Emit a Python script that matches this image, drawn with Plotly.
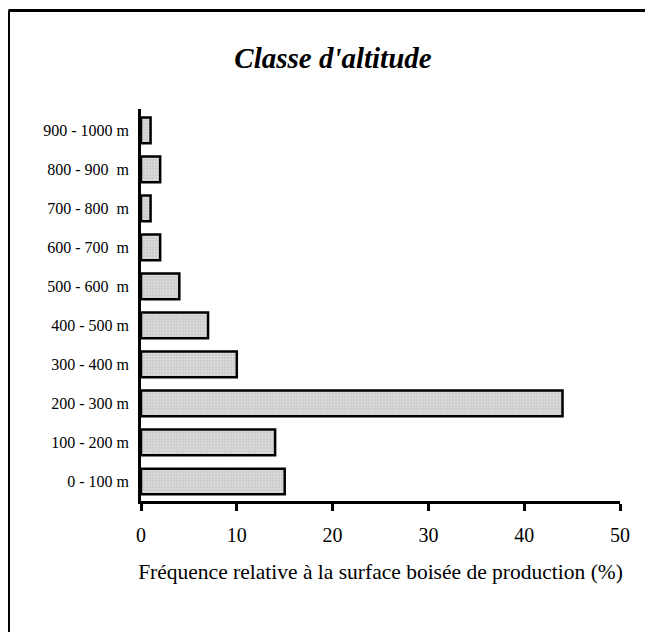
import plotly.graph_objects as go

categories = ["0 - 100 m", "100 - 200 m", "200 - 300 m", "300 - 400 m", "400 - 500 m",
              "500 - 600\u00a0 m", "600 - 700\u00a0 m", "700 - 800\u00a0 m", "800 - 900\u00a0 m", "900 - 1000 m"]
values = [15, 14, 44, 10, 7, 4, 2, 1, 2, 1]
x_ticks = [0, 10, 20, 30, 40, 50]

title_text = "<b><i>Classe d'altitude</i></b>"
x_title = "Fréquence relative à la surface boisée de production (%)"

FONT = "Liberation Serif, Times New Roman, serif"

fig = go.Figure(go.Bar(
    y=categories, x=values, orientation="h",
    marker=dict(
        color="#d4d4d4",
        line=dict(color="black", width=2.5),
        pattern=dict(shape=".", fgcolor="#f4f4f4", bgcolor="#cccccc", size=3, solidity=0.4),
    ),
    width=0.66,
))

# page offset of the plot div inside the browser page
OFF = 8
W, H = 653 - OFF, 632 - OFF
L, T = 141 - OFF, 109 - OFF
R = W - (620 - OFF)
B = H - (501 - OFF)
pw, ph = W - L - R, H - T - B

def px_x(p):
    return (p - OFF - L) / pw

def px_y(p):
    return (H - B - (p - OFF)) / ph

fig.update_layout(
    width=W, height=H,
    margin=dict(l=L, r=R, t=T, b=B, pad=0),
    paper_bgcolor="white", plot_bgcolor="white",
    showlegend=False,
    font=dict(family=FONT, color="black"),
    title=dict(text=title_text, x=(333 - OFF) / W, xanchor="center", y=1 - (58 - OFF) / H, yanchor="middle",
               font=dict(size=29, family=FONT, color="black")),
    xaxis=dict(range=[0, 50], tickvals=x_ticks, ticks="outside", ticklen=7, tickwidth=2.5,
               tickcolor="black", showline=True, linecolor="black", linewidth=2.5,
               showgrid=False, zeroline=False, tickfont=dict(size=20, family=FONT),
               ticklabelstandoff=7,
               title=dict(text=x_title, font=dict(size=21.5, family=FONT), standoff=20)),
    yaxis=dict(range=[-0.5, 9.55], type="category", showline=True, linecolor="black", linewidth=2.5,
               ticks="", showgrid=False, zeroline=False, tickfont=dict(size=16, family=FONT),
               ticklabelstandoff=6),
    bargap=0.34,
)

# outer frame (top and left edges)
fig.add_shape(type="line", xref="paper", yref="paper",
              x0=px_x(8.5), y0=px_y(10.5), x1=px_x(653), y1=px_y(10.5),
              line=dict(color="black", width=3))
fig.add_shape(type="line", xref="paper", yref="paper",
              x0=px_x(8.5), y0=px_y(10.5), x1=px_x(8.5), y1=px_y(632),
              line=dict(color="black", width=3))

fig.write_html("out.html", config={"displayModeBar": False})
